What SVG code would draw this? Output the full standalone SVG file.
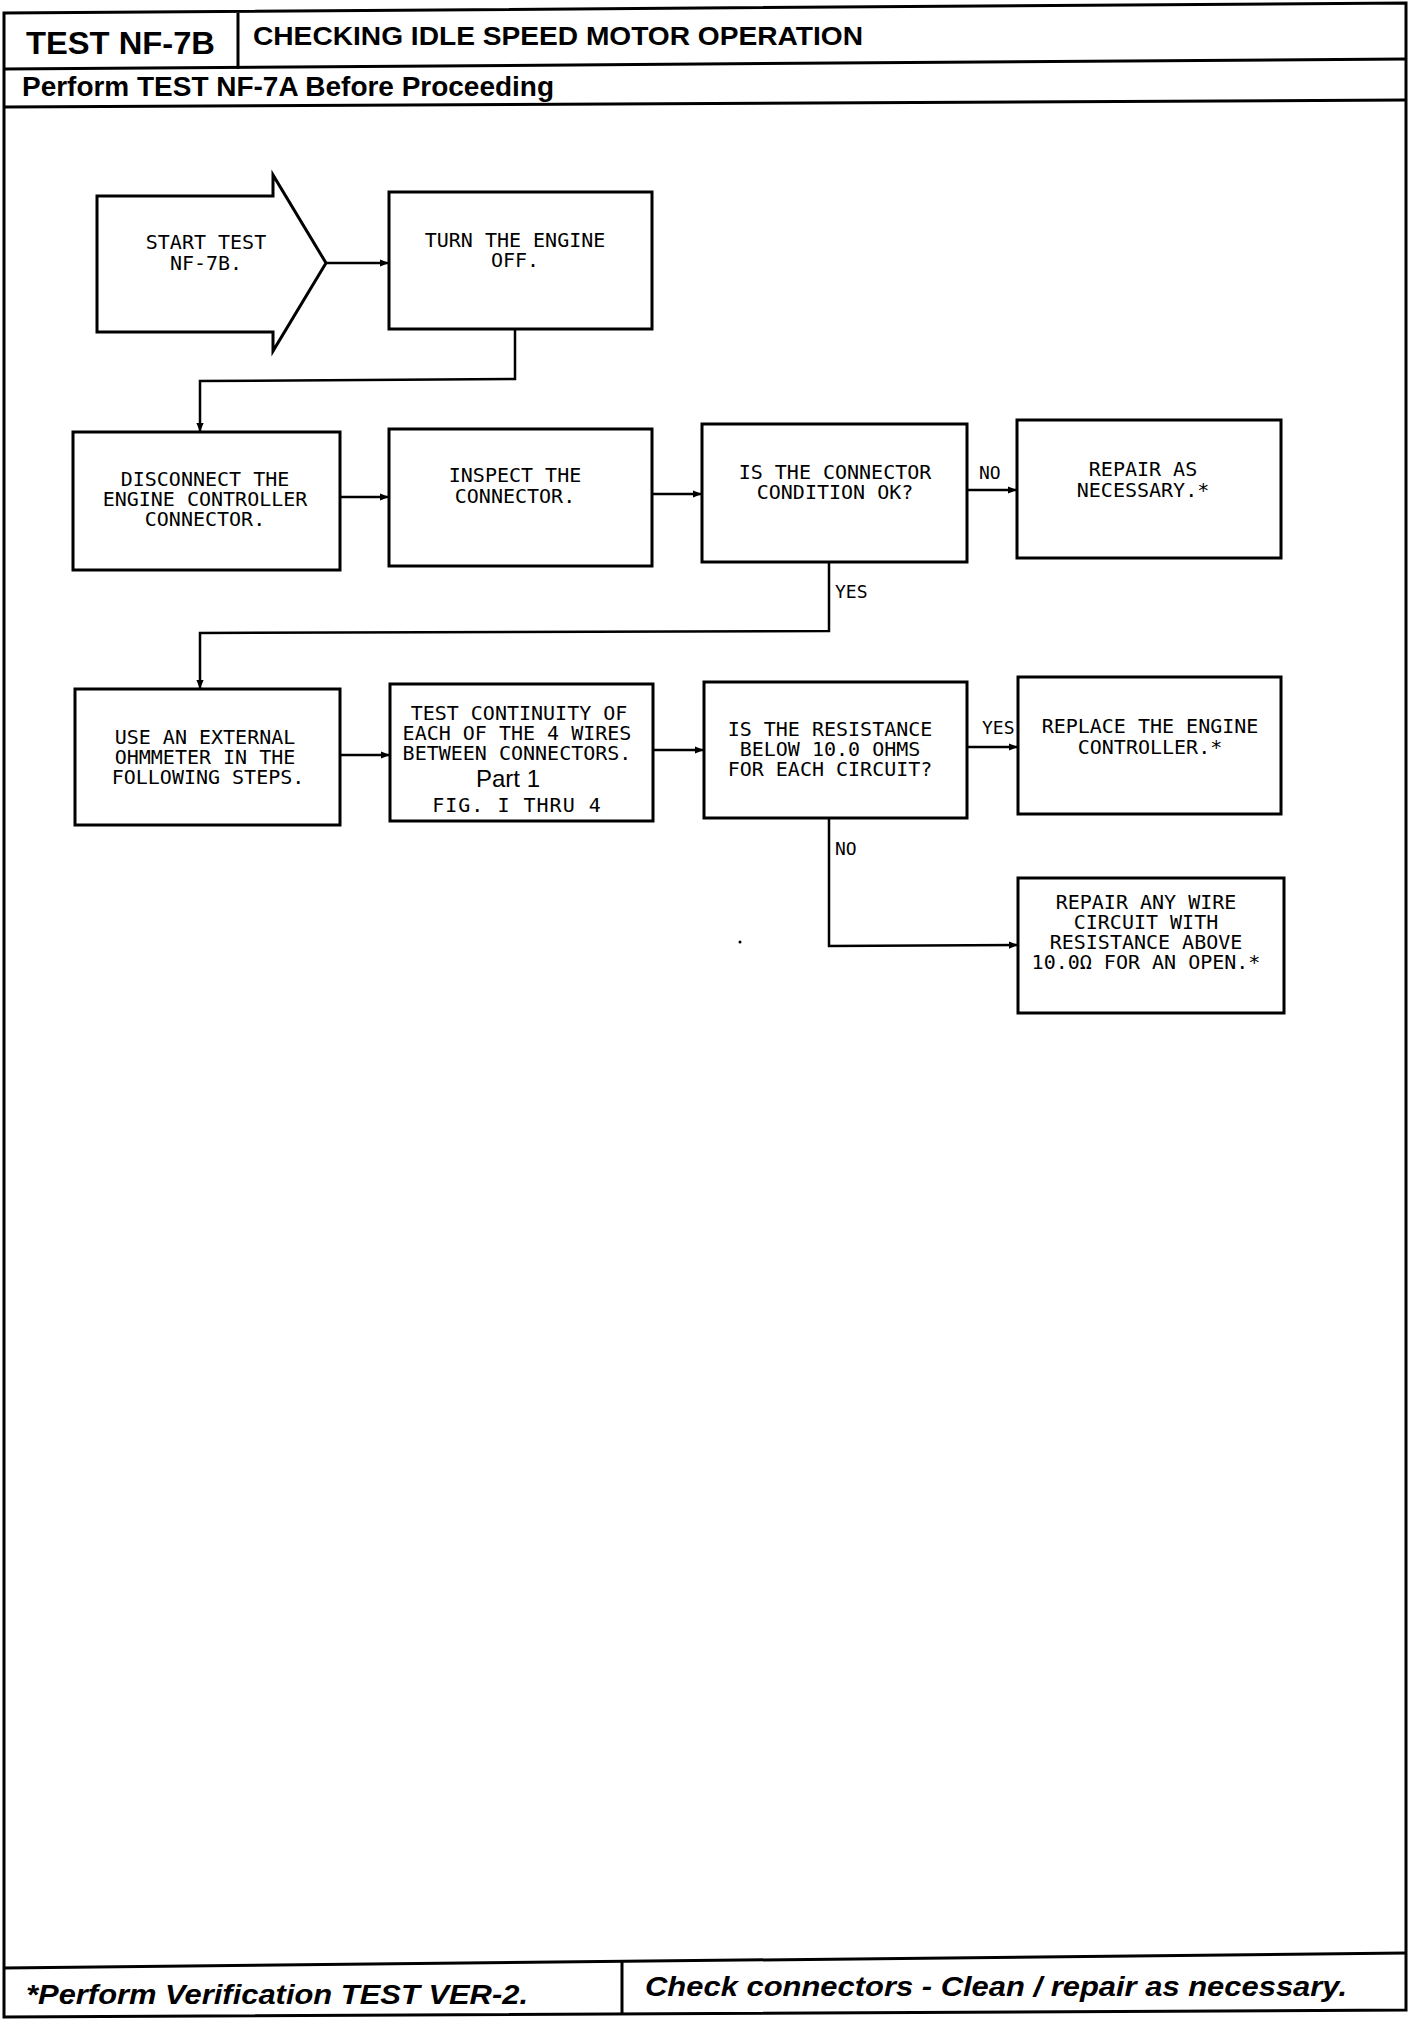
<svg xmlns="http://www.w3.org/2000/svg" width="1424" height="2020" viewBox="0 0 1424 2020">
<defs>
<marker id="ah" viewBox="0 0 10 10" refX="10" refY="5" markerWidth="9" markerHeight="9" markerUnits="userSpaceOnUse" orient="auto">
<path d="M0,1 L10,5 L0,9 Z" fill="#000"/>
</marker>
<style>
.frame{fill:none;stroke:#000;stroke-width:3}
.box{fill:#fff;stroke:#000;stroke-width:3}
.conn{fill:none;stroke:#000;stroke-width:2.5}
.hd{font-family:"Liberation Sans",Arial,sans-serif;font-weight:bold;fill:#000}
.ft{font-family:"Liberation Sans",Arial,sans-serif;font-weight:bold;font-style:italic;font-size:28px;fill:#000}
.t{font-family:"DejaVu Sans Mono","Liberation Mono",monospace;font-size:20px;fill:#000;text-anchor:middle}
.lbl{font-family:"DejaVu Sans Mono","Liberation Mono",monospace;font-size:18px;fill:#000}
</style>
</defs>
<rect width="1424" height="2020" fill="#fff"/>
<g id="frame">
<path class="frame" d="M4,13 L1406,3 L1406,2010 L4,2017 Z"/>
<line class="frame" x1="238" y1="13" x2="238" y2="69"/>
<line class="frame" x1="4" y1="69" x2="1406" y2="59"/>
<line class="frame" x1="4" y1="107" x2="1406" y2="100"/>
<line class="frame" x1="4" y1="1968" x2="1406" y2="1953"/>
<line class="frame" x1="622" y1="1962" x2="622" y2="2014"/>
<text class="hd" x="26" y="54" font-size="31" textLength="189" lengthAdjust="spacingAndGlyphs">TEST NF-7B</text>
<text class="hd" x="253" y="45" font-size="26" textLength="610" lengthAdjust="spacingAndGlyphs">CHECKING IDLE SPEED MOTOR OPERATION</text>
<text class="hd" x="22" y="96" font-size="27" textLength="532" lengthAdjust="spacingAndGlyphs">Perform TEST NF-7A Before Proceeding</text>
<text class="ft" x="26" y="2004" textLength="502" lengthAdjust="spacingAndGlyphs">*Perform Verification TEST VER-2.</text>
<text class="ft" x="645" y="1996" textLength="702" lengthAdjust="spacingAndGlyphs">Check connectors - Clean / repair as necessary.</text>
</g>
<g id="connectors">
<line class="conn" x1="326" y1="263" x2="389" y2="263" marker-end="url(#ah)"/>
<polyline class="conn" points="515,329 515,379 200,381 200,432" marker-end="url(#ah)"/>
<line class="conn" x1="340" y1="497" x2="389" y2="497" marker-end="url(#ah)"/>
<line class="conn" x1="652" y1="494" x2="702" y2="494" marker-end="url(#ah)"/>
<line class="conn" x1="967" y1="490" x2="1017" y2="490" marker-end="url(#ah)"/>
<polyline class="conn" points="829,562 829,631 200,633 200,689" marker-end="url(#ah)"/>
<line class="conn" x1="340" y1="755" x2="390" y2="755" marker-end="url(#ah)"/>
<line class="conn" x1="653" y1="750" x2="704" y2="750" marker-end="url(#ah)"/>
<line class="conn" x1="967" y1="747" x2="1018" y2="747" marker-end="url(#ah)"/>
<polyline class="conn" points="829,818 829,946 1018,945" marker-end="url(#ah)"/>
<text class="lbl" x="979" y="479">NO</text>
<text class="lbl" x="835" y="598">YES</text>
<text class="lbl" x="982" y="734">YES</text>
<text class="lbl" x="835" y="855">NO</text>
<circle cx="740" cy="942" r="1.5" fill="#000"/>
</g>
<g id="start">
<path class="box" d="M97,196 L273,196 L273,175 L326,263 L273,351 L273,332 L97,332 Z"/>
<text class="t" x="206" y="249">START TEST</text>
<text class="t" x="206" y="270">NF-7B.</text>
</g>
<g id="turn-off">
<rect class="box" x="389" y="192" width="263" height="137"/>
<text class="t" x="515" y="247">TURN THE ENGINE</text>
<text class="t" x="515" y="267">OFF.</text>
</g>
<g id="disconnect">
<rect class="box" x="73" y="432" width="267" height="138"/>
<text class="t" x="205" y="486">DISCONNECT THE</text>
<text class="t" x="205" y="506">ENGINE CONTROLLER</text>
<text class="t" x="205" y="526">CONNECTOR.</text>
</g>
<g id="inspect">
<rect class="box" x="389" y="429" width="263" height="137"/>
<text class="t" x="515" y="482">INSPECT THE</text>
<text class="t" x="515" y="503">CONNECTOR.</text>
</g>
<g id="connector-ok">
<rect class="box" x="702" y="424" width="265" height="138"/>
<text class="t" x="835" y="479">IS THE CONNECTOR</text>
<text class="t" x="835" y="499">CONDITION OK?</text>
</g>
<g id="repair-as-necessary">
<rect class="box" x="1017" y="420" width="264" height="138"/>
<text class="t" x="1143" y="476">REPAIR AS</text>
<text class="t" x="1143" y="497">NECESSARY.*</text>
</g>
<g id="use-ohmmeter">
<rect class="box" x="75" y="689" width="265" height="136"/>
<text class="t" x="205" y="744">USE AN EXTERNAL</text>
<text class="t" x="205" y="764">OHMMETER IN THE</text>
<text class="t" x="208" y="784">FOLLOWING STEPS.</text>
</g>
<g id="test-continuity">
<rect class="box" x="390" y="684" width="263" height="137"/>
<text class="t" x="519" y="720">TEST CONTINUITY OF</text>
<text class="t" x="517" y="740">EACH OF THE 4 WIRES</text>
<text class="t" x="517" y="760">BETWEEN CONNECTORS.</text>
<text x="508" y="787" font-family="Liberation Sans, Arial, sans-serif" font-size="24" text-anchor="middle">Part 1</text>
<text class="t" x="517" y="812" font-size="17" letter-spacing="1">FIG. I THRU 4</text>
</g>
<g id="resistance-ok">
<rect class="box" x="704" y="682" width="263" height="136"/>
<text class="t" x="830" y="736">IS THE RESISTANCE</text>
<text class="t" x="830" y="756">BELOW 10.0 OHMS</text>
<text class="t" x="830" y="776">FOR EACH CIRCUIT?</text>
</g>
<g id="replace-controller">
<rect class="box" x="1018" y="677" width="263" height="137"/>
<text class="t" x="1150" y="733">REPLACE THE ENGINE</text>
<text class="t" x="1150" y="754">CONTROLLER.*</text>
</g>
<g id="repair-wire">
<rect class="box" x="1018" y="878" width="266" height="135"/>
<text class="t" x="1146" y="909">REPAIR ANY WIRE</text>
<text class="t" x="1146" y="929">CIRCUIT WITH</text>
<text class="t" x="1146" y="949">RESISTANCE ABOVE</text>
<text class="t" x="1146" y="969">10.0Ω FOR AN OPEN.*</text>
</g>
</svg>
